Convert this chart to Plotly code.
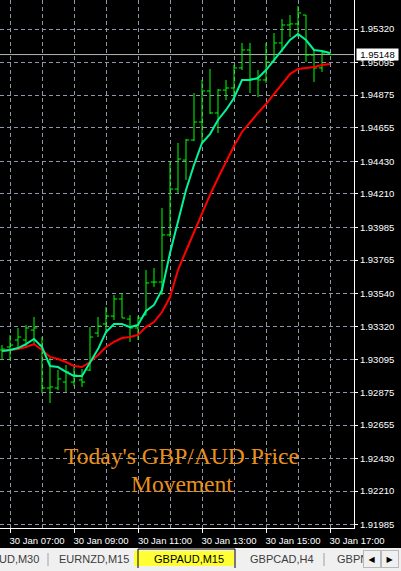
import plotly.graph_objects as go

# ---------------- data ----------------
bar_date = "2024-01-30"
bar_times = ["06:45", "07:00", "07:15", "07:30", "07:45", "08:00", "08:15", "08:30", "08:45",
             "09:00", "09:15", "09:30", "09:45", "10:00", "10:15", "10:30", "10:45",
             "11:00", "11:15", "11:30", "11:45", "12:00", "12:15", "12:30", "12:45",
             "13:00", "13:15", "13:30", "13:45", "14:00", "14:15", "14:30", "14:45",
             "15:00", "15:15", "15:30", "15:45", "16:00", "16:15", "16:30", "16:45", "17:00"]

open_p = [1.93160, 1.93180, 1.93227, 1.93227, 1.93294, 1.93193, 1.92904, 1.92904, 1.92944, 1.92944,
          1.92958, 1.93025, 1.93274, 1.93335, 1.93388, 1.93503, 1.93368, 1.93308, 1.93395, 1.93617,
          1.93617, 1.93934, 1.94243, 1.94438, 1.94573, 1.94694, 1.94903, 1.94755, 1.94909, 1.94923,
          1.95058, 1.95179, 1.94984, 1.94977, 1.95098, 1.95226, 1.95347, 1.95354, 1.95414, 1.95145,
          1.95058, 1.95159]
high_p = [1.93193, 1.93261, 1.93308, 1.93328, 1.93382, 1.93247, 1.93106, 1.93025, 1.93059, 1.93045,
          1.93032, 1.93314, 1.93382, 1.93449, 1.93530, 1.93543, 1.93395, 1.93388, 1.93698, 1.93712,
          1.94115, 1.94425, 1.94553, 1.94580, 1.94889, 1.94977, 1.95051, 1.94916, 1.94977, 1.95078,
          1.95226, 1.95226, 1.95044, 1.95226, 1.95293, 1.95387, 1.95414, 1.95475, 1.95414, 1.95179,
          1.95165, 1.95165]
low_p = [1.93092, 1.93092, 1.93180, 1.93180, 1.93193, 1.92870, 1.92803, 1.92890, 1.92877, 1.92917,
         1.92911, 1.93018, 1.93247, 1.93274, 1.93362, 1.93375, 1.93214, 1.93227, 1.93395, 1.93584,
         1.93530, 1.93920, 1.94216, 1.94304, 1.94566, 1.94553, 1.94748, 1.94620, 1.94842, 1.94842,
         1.95044, 1.94889, 1.94862, 1.94957, 1.95098, 1.95165, 1.95266, 1.95266, 1.95098, 1.94963,
         1.95031, 1.95145]
close_p = [1.93166, 1.93193, 1.93247, 1.93308, 1.93308, 1.92904, 1.92911, 1.92965, 1.93012, 1.92991,
           1.92944, 1.93247, 1.93321, 1.93388, 1.93503, 1.93375, 1.93308, 1.93375, 1.93611, 1.93617,
           1.93934, 1.94243, 1.94445, 1.94573, 1.94694, 1.94903, 1.94755, 1.94909, 1.94923, 1.95058,
           1.95179, 1.94984, 1.94977, 1.95098, 1.95226, 1.95347, 1.95354, 1.95428, 1.95145, 1.95058,
           1.95159, 1.95148]

fast_ma = [1.93153, 1.93160, 1.93173, 1.93200, 1.93234, 1.93180, 1.93052, 1.93045, 1.93012, 1.92985,
           1.92985, 1.93072, 1.93166, 1.93281, 1.93335, 1.93335, 1.93314, 1.93328, 1.93422, 1.93463,
           1.93564, 1.93813, 1.94035, 1.94237, 1.94405, 1.94553, 1.94613, 1.94708, 1.94775, 1.94856,
           1.94977, 1.94977, 1.94990, 1.95044, 1.95111, 1.95179, 1.95246, 1.95286, 1.95246, 1.95179,
           1.95172, 1.95159]
slow_ma = [1.93153, 1.93160, 1.93166, 1.93180, 1.93200, 1.93160, 1.93113, 1.93099, 1.93079, 1.93052,
           1.93045, 1.93079, 1.93126, 1.93180, 1.93214, 1.93240, 1.93247, 1.93261, 1.93314, 1.93348,
           1.93415, 1.93516, 1.93698, 1.93826, 1.93954, 1.94088, 1.94203, 1.94317, 1.94425, 1.94533,
           1.94627, 1.94694, 1.94755, 1.94815, 1.94883, 1.94957, 1.95017, 1.95051, 1.95058, 1.95064,
           1.95078, 1.95084]

current_price = 1.95148
price_ticks = [1.95320, 1.95095, 1.94875, 1.94655, 1.94430, 1.94210, 1.93985, 1.93765,
               1.93540, 1.93320, 1.93095, 1.92875, 1.92655, 1.92430, 1.92210, 1.91985]
label_hours = ["07:00", "09:00", "11:00", "13:00", "15:00", "17:00"]
grid_hours = ["07:00", "08:00", "09:00", "10:00", "11:00", "12:00", "13:00", "14:00",
              "15:00", "16:00", "17:00"]
x_view = ["06:41:15", "17:45:00"]
y_view = [1.919618, 1.955152]

title_lines = ["Today's GBP/AUD Price", "Movement"]
tab_labels = ["UD,M30", "EURNZD,M15", "GBPAUD,M15", "GBPCAD,H4", "GBPN"]

# ---------------- figure ----------------
W, H = 401, 571
ML, MR, MT, MB = 0, 47, 0, 43
PW, PH = W - ML - MR, H - MT - MB


def px(x):
    return (x - ML) / PW


def py(y):
    return (MT + PH - y) / PH


xs = [f"{bar_date} {t}" for t in bar_times]

GRID = "#8d97a8"
AXFONT = dict(family="Liberation Sans, Arial, sans-serif", size=9.5, color="white")

fig = go.Figure()
fig.add_trace(go.Ohlc(
    x=xs, open=open_p, high=high_p, low=low_p, close=close_p,
    increasing=dict(line=dict(color="#00ff00", width=1)),
    decreasing=dict(line=dict(color="#00ff00", width=1)),
    tickwidth=0.4, hoverinfo="skip"))
fig.add_trace(go.Scatter(x=xs, y=slow_ma, mode="lines",
                         line=dict(color="#ff0000", width=2), hoverinfo="skip"))
fig.add_trace(go.Scatter(x=xs, y=fast_ma, mode="lines",
                         line=dict(color="#00f59a", width=2), hoverinfo="skip"))

fig.update_layout(
    width=W, height=H,
    margin=dict(l=ML, r=MR, t=MT, b=MB, pad=0),
    paper_bgcolor="black", plot_bgcolor="black",
    showlegend=False,
    xaxis=dict(
        type="date",
        range=[f"{bar_date} {x_view[0]}", f"{bar_date} {x_view[1]}"],
        rangeslider=dict(visible=False),
        tickmode="array",
        tickvals=[f"{bar_date} {t}" for t in label_hours],
        ticktext=[f"30 Jan {t}" for t in label_hours],
        tickangle=0,
        ticks="outside", ticklen=4, tickcolor="white", tickwidth=1,
        ticklabelposition="outside",
        ticklabelshift=27,
        tickfont=AXFONT,
        showline=True, linecolor="white", linewidth=1,
        showgrid=True, gridcolor=GRID, griddash="4px,3px", gridwidth=1,
        minor=dict(tickmode="array", tickvals=[f"{bar_date} {t}" for t in grid_hours],
                   showgrid=True, gridcolor=GRID, griddash="4px,3px", gridwidth=1, ticks=""),
        zeroline=False, fixedrange=True,
    ),
    yaxis=dict(
        side="right",
        range=y_view,
        tickmode="array",
        tickvals=price_ticks,
        ticktext=[f"{v:.5f}" for v in price_ticks],
        ticks="outside", ticklen=3, tickcolor="white", tickwidth=1,
        tickfont=AXFONT,
        showline=True, linecolor="white", linewidth=1,
        showgrid=True, gridcolor=GRID, griddash="4px,3px", gridwidth=1,
        zeroline=False, fixedrange=True,
    ),
)

shapes = []
# current price line
shapes.append(dict(type="line", xref="paper", yref="y", x0=0, x1=1,
                   y0=current_price, y1=current_price,
                   line=dict(color="#b4b4b4", width=1), layer="below"))
# tab bar background
shapes.append(dict(type="rect", xref="paper", yref="paper", x0=px(0), x1=px(W),
                   y0=py(548), y1=py(H), fillcolor="#f0f0f0", line=dict(width=0)))
# separators
for sx in (48, 324):
    shapes.append(dict(type="line", xref="paper", yref="paper", x0=px(sx), x1=px(sx),
                       y0=py(553), y1=py(566), line=dict(color="#a0a0a0", width=1)))
# active tab
shapes.append(dict(type="rect", xref="paper", yref="paper", x0=px(134), x1=px(234),
                   y0=py(551), y1=py(566), fillcolor="#ffff33", line=dict(width=0)))
shapes.append(dict(type="path", xref="paper", yref="paper",
                   path=f"M {px(138)},{py(568)} L {px(138)},{py(549)} L {px(235)},{py(549)} L {px(235)},{py(568)}",
                   line=dict(color="black", width=1)))
fig.update_layout(shapes=shapes)

TABFONT = dict(family="Liberation Sans, Arial, sans-serif", size=11, color="#3c3c3c")
ann = []
# title text
for i, line in enumerate(title_lines):
    ann.append(dict(xref="paper", yref="paper", x=px(181.5), y=py(456 + 28 * i), text=line,
                    showarrow=False, xanchor="center", yanchor="middle",
                    font=dict(family="Liberation Serif, Times New Roman, serif", size=23.5, color="#e8901c")))
# current price label
ann.append(dict(xref="paper", yref="y", x=1, y=current_price, xanchor="left", yanchor="middle",
                xshift=2, text=f"{current_price:.5f}", showarrow=False,
                bgcolor="white", borderpad=1, width=39, height=9, align="center",
                font=dict(family=AXFONT["family"], size=9.5, color="black")))
# tabs
tab_pos = [(41, "right"), (57, "left"), (152, "left"), (248, "left"), (335, "left")]
for (tx, anc), lab in zip(tab_pos, tab_labels):
    f = dict(TABFONT)
    if lab == "GBPAUD,M15":
        f["color"] = "black"
    ann.append(dict(xref="paper", yref="paper", x=px(tx), y=py(559), text=lab,
                    showarrow=False, xanchor=anc, yanchor="middle", font=f))
# scroll buttons
for bx, sym in ((372, "◀"), (390, "▶")):
    ann.append(dict(xref="paper", yref="paper", x=px(bx), y=py(559), text=sym,
                    showarrow=False, xanchor="center", yanchor="middle",
                    width=16, height=16, borderpad=0, borderwidth=1,
                    bordercolor="#b9b9b9", bgcolor="#f0f0f0",
                    font=dict(family="DejaVu Sans", size=8, color="black")))
fig.update_layout(annotations=ann)

fig.write_html("out.html", config={"displayModeBar": False, "staticPlot": True},
               post_script="document.body.style.margin='0';document.body.style.padding='0';"
                           "document.body.style.overflow='hidden';")
